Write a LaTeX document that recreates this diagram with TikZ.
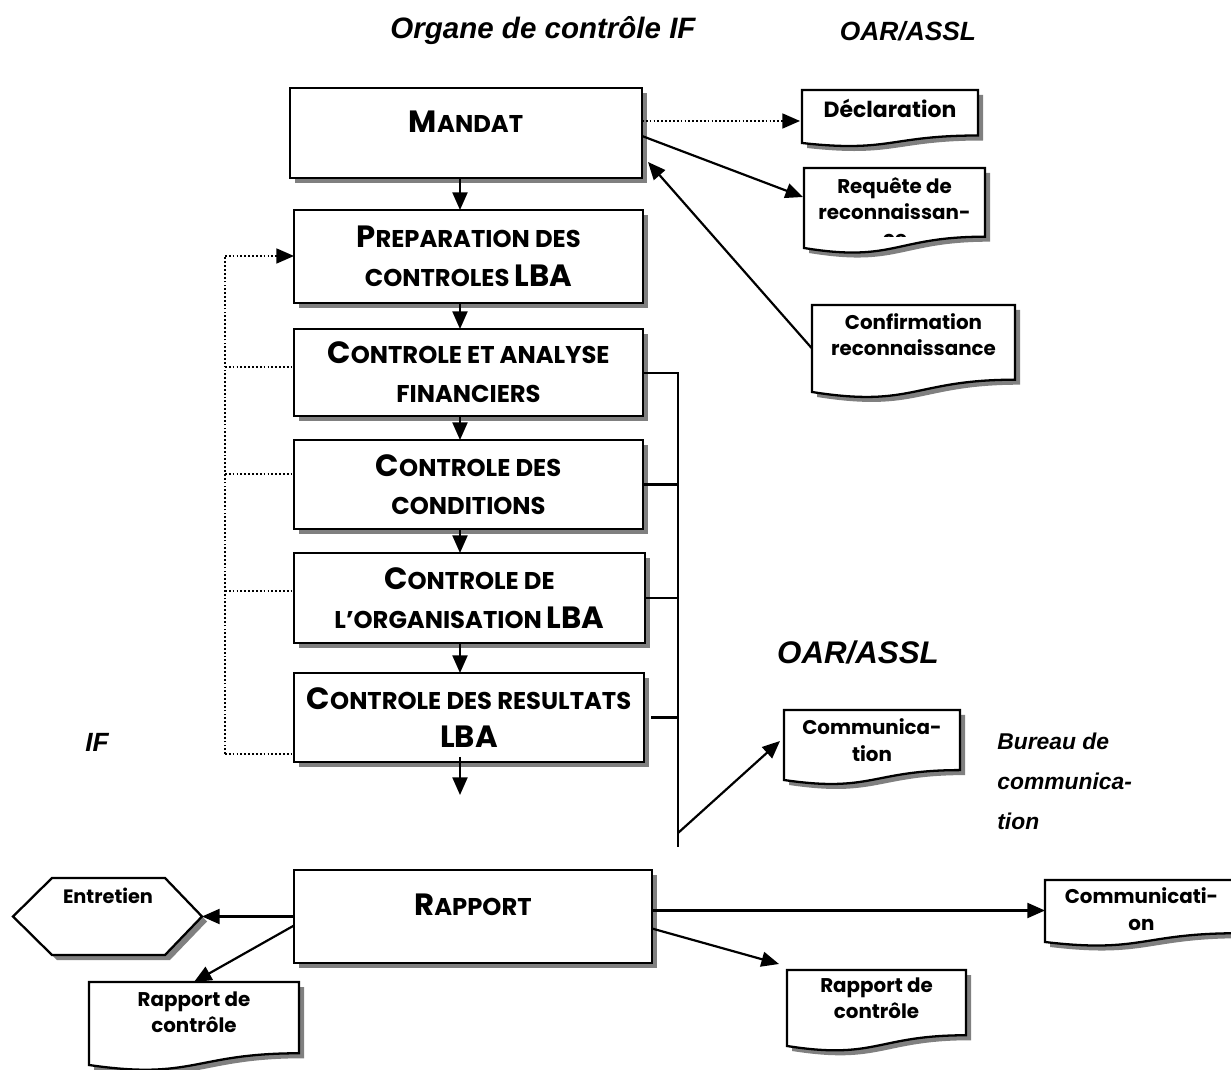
\documentclass[tikz,border=0pt]{standalone}
\usepackage{fontspec}
\setmainfont{Liberation Sans}
\newfontfamily\gothic{Poppins}
\usetikzlibrary{arrows.meta,calc,shadows}
\definecolor{shadowc}{gray}{0.5}
\newcommand\BC[1]{{\fontsize{17.5}{22}\selectfont #1}}
\newcommand\SC[1]{{\fontsize{13.8}{22}\selectfont #1}}
\tikzset{
  procbox/.style={draw, line width=1.5pt, fill=white, rectangle, inner sep=0pt, outer sep=0pt,
    align=center, font=\gothic\bfseries\fontsize{13.8}{22}\selectfont,
    drop shadow={shadow xshift=0.1cm, shadow yshift=-0.1cm, fill=shadowc, opacity=1}},
  docbox/.style={rectangle, inner sep=0pt, outer sep=0pt},
  doctext/.style={align=center, inner sep=0pt, font=\gothic\bfseries\fontsize{11.3}{15}\selectfont},
  docline/.style={line width=1.3pt},
  tip/.style={-{Triangle[length=10pt,width=8.5pt]}},
  conn/.style={line width=1.25pt, tip},
  plain/.style={line width=1.25pt},
  dotl/.style={line width=1pt, dash pattern=on 1pt off 1.2pt},
  head/.style={font=\bfseries\itshape\fontsize{15}{18}\selectfont, inner sep=0pt},
}
% name x1 y1 x2 y2(left bottom) shift text
\newcommand\docnode[7]{%
  \pgfmathsetmacro\dA{#3+0.802*(#5-#3)/0.934}%
  \pgfmathsetmacro\dB{#3+1.107*(#5-#3)/0.934}%
  \pgfmathsetmacro\dM{(#2+#4)/2}%
  \node[docbox, minimum width={(#4-#2)*0.02cm}, minimum height={(#5-#3)*0.02cm}] (#1) at ({\dM},{(#3+#5)/2}) {};
  \fill[shadowc] ({#2+5},{#3+5}) -- ({#4+5},{#3+5}) -- ({#4+5},{\dA+5}) .. controls ({\dM+5},{\dA+5}) and ({\dM+5},{\dB+5}) .. ({#2+5},{#5+5}) -- cycle;
  \fill[white] (#1.north west) -- (#1.north east) -- ({#4},{\dA}) .. controls ({\dM},{\dA}) and ({\dM},{\dB}) .. (#1.south west) -- cycle;
  \begin{scope}
    \clip (#1.north west) -- (#1.north east) -- ({#4},{\dA}) .. controls ({\dM},{\dA}) and ({\dM},{\dB}) .. (#1.south west) -- cycle;
    \node[doctext] (#1-t) at ($(#1.center)+(0,-#6)$) {#7};
  \end{scope}
  \draw[docline] (#1.north west) -- (#1.north east) -- ({#4},{\dA}) .. controls ({\dM},{\dA}) and ({\dM},{\dB}) .. (#1.south west) -- cycle;
}
\begin{document}
\begin{tikzpicture}[x=0.02cm, y=-0.02cm]
\useasboundingbox[fill=white] (0,0) rectangle (1231,1070);

% headers
\node[head, font=\bfseries\itshape\fontsize{16.8}{18}\selectfont] (h1) at (543,31) {Organe de contrôle IF};
\node[head] (h2) at (908,31) {OAR/ASSL};
\node[head, font=\bfseries\itshape\fontsize{17.8}{18}\selectfont] (h3) at (858,652) {OAR/ASSL};
\node[head] (hif) at (97,742) {IF};
\node[font=\bfseries\itshape\fontsize{13}{22.8}\selectfont, align=left, anchor=west, inner sep=0pt] (bureau) at (997,781) {Bureau de\\communica-\\tion};

% process boxes
\node[procbox, text height=12pt, text depth=13pt, minimum width={352*0.02cm}, minimum height={90*0.02cm}] (mandat) at (466,133) {\BC{M}\SC{ANDAT}};
\node[procbox, minimum width={349*0.02cm}, minimum height={93*0.02cm}] (prep) at (468.5,256.5) {\BC{P}\SC{REPARATION DES}\\\SC{CONTROLES} \BC{LBA}};
\node[procbox, minimum width={349*0.02cm}, minimum height={87*0.02cm}] (caf) at (468.5,372.5) {\BC{C}\SC{ONTROLE ET ANALYSE}\\\SC{FINANCIERS}};
\node[procbox, minimum width={349*0.02cm}, minimum height={89*0.02cm}] (cdc) at (468.5,484.5) {\BC{C}\SC{ONTROLE DES}\\\SC{CONDITIONS}};
\node[procbox, minimum width={351*0.02cm}, minimum height={90*0.02cm}] (cdo) at (469.5,598) {\BC{C}\SC{ONTROLE DE}\\\SC{L’ORGANISATION} \BC{LBA}};
\node[procbox, minimum width={350*0.02cm}, minimum height={89*0.02cm}] (cdr) at (469,717.5) {\BC{C}\SC{ONTROLE DES RESULTATS}\\\BC{LBA}};
\node[procbox, text height=12pt, text depth=13pt, minimum width={358*0.02cm}, minimum height={93*0.02cm}] (rapport) at (473,916.5) {\BC{R}\SC{APPORT}};

% documents
\docnode{decl}{802}{90}{978}{143}{8}{\fontsize{12.5}{15}\selectfont Déclaration}
\docnode{req}{804}{168}{985}{248}{9.5}{Requête de\\reconnaissan-}
\begin{scope}
  \clip (804,168) rectangle (985,237);
  \node[doctext] (req-ce) at (895,240) {ce};
\end{scope}
\docnode{conf}{812}{305}{1015}{392}{14}{Confirmation\\reconnaissance}
\docnode{comm1}{784}{710}{960}{780}{5}{Communica-\\tion}
\docnode{comm2}{1045}{880}{1238}{942}{2}{Communicati-\\on}
\docnode{rcr}{787}{970}{966}{1046}{10}{Rapport de\\contrôle}
\docnode{rcl}{89}{982}{299}{1065}{11}{Rapport de\\contrôle}

% hexagon
\node[docbox, minimum width={189*0.02cm}, minimum height={77*0.02cm}] (entr) at (107.5,916.5) {};
\fill[shadowc] (57,883) -- (170,883) -- (207,921.5) -- (170,960) -- (57,960) -- (18,921.5) -- cycle;
\filldraw[fill=white, docline] (52,878) -- (165,878) -- (entr.east) -- (165,955) -- (52,955) -- (entr.west) -- cycle;
\node[doctext, font=\gothic\bfseries\fontsize{11}{15}\selectfont] (entr-t) at (108,896) {Entretien};

% vertical flow
\coordinate (ax) at (460,0);
\draw[conn] (mandat.south -| ax) -- (prep.north -| ax);
\draw[conn] (prep.south -| ax) -- (caf.north -| ax);
\draw[conn] (caf.south -| ax) -- (cdc.north -| ax);
\draw[conn] (cdc.south -| ax) -- (cdo.north -| ax);
\draw[conn] (cdo.south -| ax) -- (cdr.north -| ax);
\coordinate (endA) at (460,795);
\draw[conn] ($(cdr.south -| ax)+(0,-5)$) -- (endA);

% right bracket
\coordinate (bt) at (678,373);
\coordinate (bb) at (678,847);
\coordinate (bj) at (678,833);
\draw[plain] (caf.east |- bt) -- (bt) -- (bb);
\draw[plain] (cdc.east) -- (cdc.east -| bt);
\draw[plain] (cdo.east) -- (cdo.east -| bt);
\draw[plain] ($(cdr.east)+(7,0)$) -- (cdr.east -| bt);
\draw[conn] (bj) -- ($(comm1.west)+(-4,-4)$);

% left dotted feedback
\coordinate (lt) at (225,256);
\coordinate (d1) at (225,367);
\coordinate (d2) at (225,474);
\coordinate (d3) at (225,591);
\coordinate (d4) at (225,754);
\draw[dotl] (d4) -- (lt);
\draw[dotl, tip] (lt) -- (prep.west |- lt);
\draw[dotl] (d1) -- (d1 -| caf.west);
\draw[dotl] (d2) -- (d2 -| cdc.west);
\draw[dotl] (d3) -- (d3 -| cdo.west);
\draw[dotl] (d4) -- (d4 -| cdr.west);

% Mandat links
\coordinate (m1) at ($(mandat.north east)+(0,33)$);
\draw[dotl, tip] (m1) -- ($(decl.west |- m1)+(-2,0)$);
\draw[conn] ($(mandat.north east)+(0,48)$) -- ($(req.west)+(-1,-11)$);
\draw[conn] (conf.west) -- ($(mandat.south east)+(6,-16)$);

% Rapport links
\draw[conn] (rapport.west) -- (entr.east);
\draw[conn] ($(rapport.west)+(0,9)$) -- (rcl.north);
\draw[conn] ($(rapport.east)+(0,-6)$) -- ($(comm2.west |- rapport.east)+(0,-6)$);
\draw[conn] ($(rapport.east)+(0,12)$) -- ($(rcr.north west)+(-8,-6)$);
\end{tikzpicture}
\end{document}
